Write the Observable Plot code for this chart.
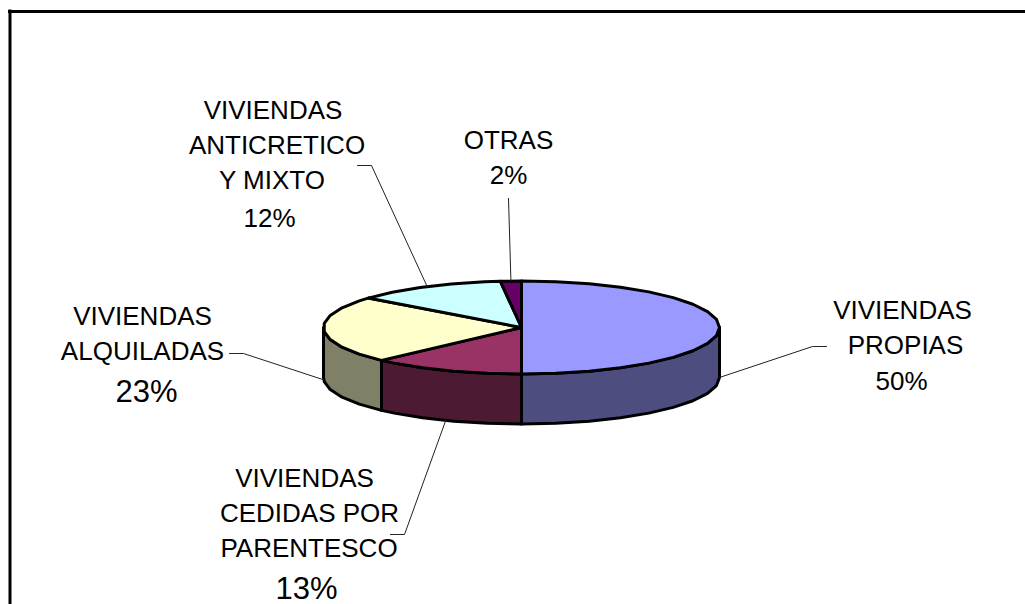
<!DOCTYPE html>
<html>
<head>
<meta charset="utf-8">
<style>html,body{margin:0;padding:0;background:#fff;overflow:hidden}svg{display:block}</style>
<script src="https://cdn.jsdelivr.net/npm/d3@7"></script>
<script src="https://cdn.jsdelivr.net/npm/@observablehq/plot@0.6"></script>
</head>
<body>
<div id="chart"></div>
<script>
// Data (slice sizes read from the wedge edges; labels show them rounded)
const categories = ["VIVIENDAS PROPIAS","VIVIENDAS CEDIDAS POR PARENTESCO","VIVIENDAS ALQUILADAS","VIVIENDAS ANTICRETICO Y MIXTO","OTRAS"];
const shares = [50, 12.5, 23.4, 12.4, 1.7];
const labelLines = [
  ["VIVIENDAS","PROPIAS"],
  ["VIVIENDAS","CEDIDAS POR","PARENTESCO"],
  ["VIVIENDAS","ALQUILADAS"],
  ["VIVIENDAS","ANTICRETICO","Y MIXTO"],
  ["OTRAS"]
];

// Presentation (layout units match the page)
const topColors  = ["#9999ff","#993366","#ffffcc","#ccffff","#660066"];
const wallColors = ["#4d4d80","#4d1a33","#808066","#668080","#330033"];
const pie = {cx:521, cy:327, rx:198, ry:46.5, depth:50, step:10};
const labelX      = [[902,905],[304,309,308.5],[142,142],[272.5,276.5,271.5],[508]];
const labelBase   = [318, 486, 324, 118, 148];
const shareX      = [901, 306, 146, 269, 508];
const shareBase   = [389, 598, 401, 226, 183];
const shareSize   = [26, 31, 31, 26, 26];
const leaderElbow = [
  [[826,346],[812,346]],
  [[390,534],[404,534]],
  [[229,353],[243,353]],
  [[357,165],[371,165]],
  [[508,198]]
];
const lineGap = 35, fontSize = 26;

const rad = d => d * Math.PI / 180;
const px = a => pie.cx + pie.rx * Math.sin(rad(a));
const py = (a, drop = 0) => pie.cy - pie.ry * Math.cos(rad(a)) + drop;

function rim(a0, a1, drop = 0) {
  const pts = [];
  for (let a = a0; a < a1; a += pie.step) pts.push({x: px(a), y: py(a, drop)});
  pts.push({x: px(a1), y: py(a1, drop)});
  return pts;
}

let acc = 0;
const slices = shares.map((v, i) => {
  const a0 = acc * 3.6; acc += v; const a1 = acc * 3.6;
  return {i, name: categories[i], v, a0, a1, mid: (a0 + a1) / 2};
});

const marks = [];

// Walls on the visible front of the pie
slices.forEach(s => {
  const lo = Math.max(s.a0, 90), hi = Math.min(s.a1, 270);
  if (lo >= hi) return;
  const poly = [...rim(lo, hi), ...rim(lo, hi, pie.depth).reverse()];
  poly.push(poly[0]);
  marks.push(Plot.line(poly, {x: "x", y: "y", fill: wallColors[s.i], stroke: "#000", strokeWidth: 3}));
});

// Top surface wedges
slices.forEach(s => {
  const poly = [{x: pie.cx, y: pie.cy}, ...rim(s.a0, s.a1), {x: pie.cx, y: pie.cy}];
  marks.push(Plot.line(poly, {x: "x", y: "y", fill: topColors[s.i], stroke: "#000", strokeWidth: 3}));
});

// Leader lines start where each slice's mid angle meets the rim
slices.forEach(s => {
  const front = s.mid >= 90 && s.mid <= 270;
  const start = {x: px(s.mid), y: py(s.mid, front ? pie.depth : 0)};
  const path = [...leaderElbow[s.i].map(([x, y]) => ({x, y})), start];
  marks.push(Plot.line(path, {x: "x", y: "y", stroke: "#222", strokeWidth: 1}));
});

// Labels
const rows = [];
slices.forEach(s => {
  labelLines[s.i].forEach((text, k) => rows.push({text, x: labelX[s.i][k], y: labelBase[s.i] + k * lineGap, size: fontSize}));
  rows.push({text: Math.round(s.v) + "%", x: shareX[s.i], y: shareBase[s.i], size: shareSize[s.i]});
});
[...new Set(rows.map(r => r.size))].forEach(size => {
  marks.push(Plot.text(rows.filter(r => r.size === size), {
    x: "x", y: "y", text: "text", fontSize: size, textAnchor: "middle",
    lineAnchor: "middle", dy: -0.32 * size, fill: "#000",
    fontFamily: "'Liberation Sans', Arial, sans-serif"
  }));
});

// Chart-area border: the left and top edges fall inside the picture
marks.push(Plot.ruleX([9.5], {y1: 9.5, y2: 604, stroke: "#000", strokeWidth: 3}));
marks.push(Plot.ruleY([11], {x1: 8, x2: 1025, stroke: "#000", strokeWidth: 3}));

const chart = Plot.plot({
  width: 1025, height: 604,
  margin: 0,
  x: {domain: [0, 1025], range: [0, 1025], axis: null},
  y: {domain: [0, 604], range: [0, 604], axis: null},
  marks
});
document.getElementById("chart").append(chart);
</script>
</body>
</html>
